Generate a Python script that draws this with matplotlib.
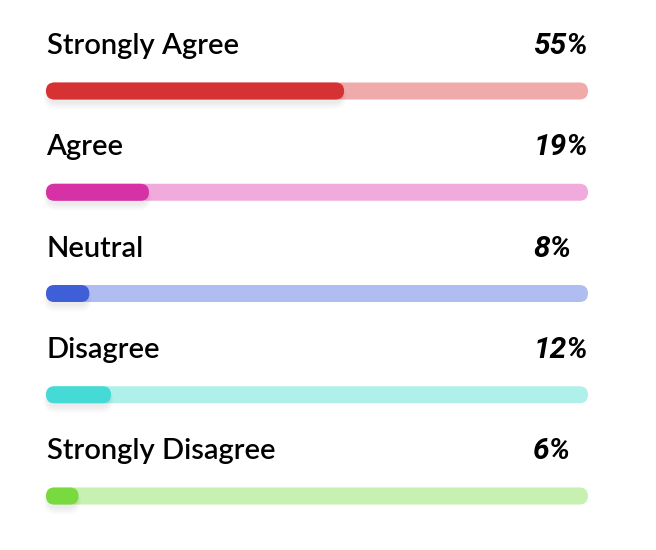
import matplotlib.pyplot as plt
from matplotlib.patches import FancyBboxPatch

categories = ["Strongly Agree", "Agree", "Neutral", "Disagree", "Strongly Disagree"]
values = [55, 19, 8, 12, 6]
fill_colors = ["#D63233", "#D632A5", "#3F5FD8", "#45DAD6", "#79DA40"]
track_colors = ["#F0AAAA", "#F0AADB", "#B0BDF0", "#B0F0EA", "#C8F0B0"]

# pixel geometry of the card (656x550)
px_x = 5.42      # pixels per percent
px_y = 101.25    # pixels per row
bar_h = 17 / px_y
radius = 8.5 / px_x
aspect = px_x / px_y

fig = plt.figure(figsize=(6.56, 5.5), dpi=100)
ax = fig.add_axes([0, 0, 1, 1])
ax.set_xlim(-46 / px_x, (656 - 46) / px_x)
ax.set_ylim((550 - 91) / px_y, -91 / px_y)
ax.axis("off")


def rounded_bar(x0, x1, y, color, z, dy=0.0, grow=0.0, alpha=1.0):
    g = grow / px_x
    gy = grow / px_y
    box = FancyBboxPatch(
        (x0 - g, y - bar_h / 2 + dy / px_y - gy), x1 - x0 + 2 * g, bar_h + 2 * gy,
        boxstyle=f"round,pad=0,rounding_size={radius + g}",
        mutation_aspect=aspect, linewidth=0, facecolor=color, alpha=alpha, zorder=z,
    )
    ax.add_patch(box)


for i, (cat, val) in enumerate(zip(categories, values)):
    rounded_bar(0, 100, i, track_colors[i], 1)
    # soft shadow under the filled part
    for k in range(4):
        rounded_bar(0.3, val - 0.3, i, "black", 2, dy=4 + k * 0.5, grow=k * 1.3, alpha=0.018)
    rounded_bar(0, val, i, fill_colors[i], 3)

    ax.text(0.1, i - 37 / px_y, cat, family="Lato", fontweight="semibold",
            fontsize=21, color="black", va="baseline", ha="left")
    ax.text(89.9, i - 37 / px_y, f"{val}%", family="Roboto", fontweight="bold",
            style="italic", fontsize=21.5, color="black", va="baseline", ha="left")

fig.savefig("out.png", dpi=100, facecolor="white")
